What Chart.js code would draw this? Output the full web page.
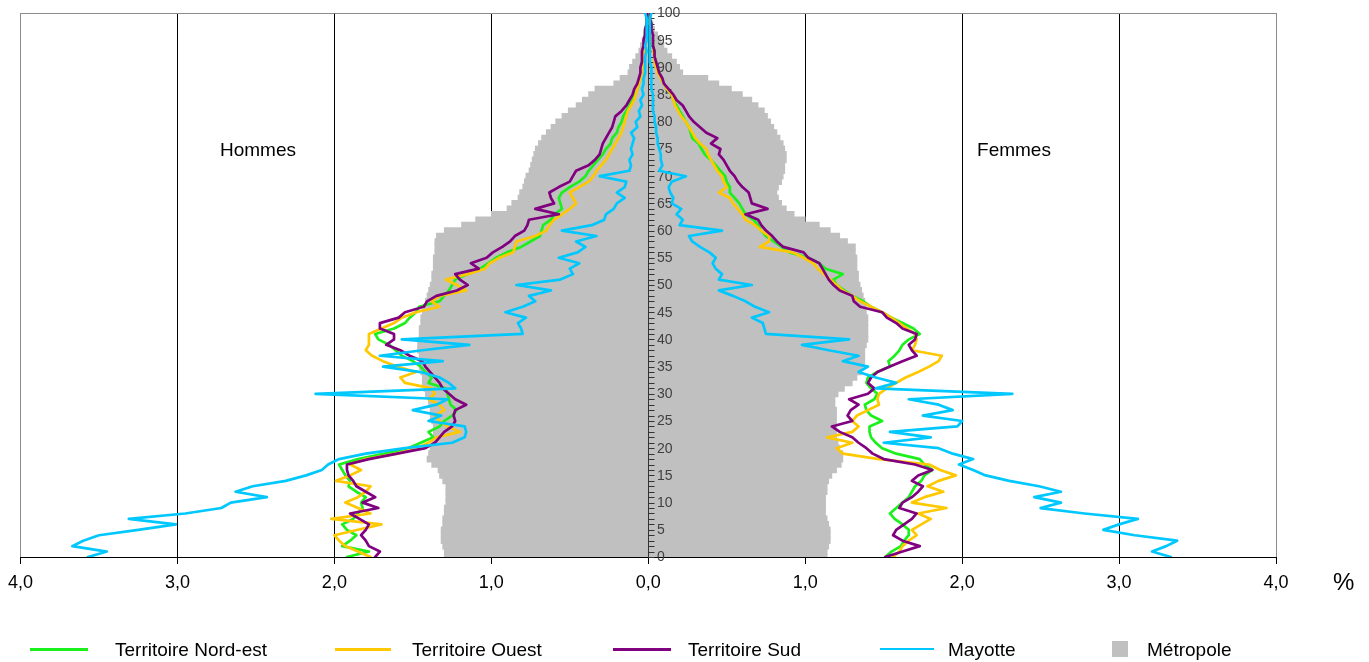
<!DOCTYPE html>
<html><head><meta charset="utf-8">
<script src="https://cdn.jsdelivr.net/npm/chart.js@4.4.1/dist/chart.umd.min.js"></script>
<style>
body{margin:0;background:#fff;}
#wrap{position:relative;width:1369px;height:662px;font-family:"Liberation Sans",Arial,sans-serif;overflow:hidden;}
canvas{position:absolute;left:0;top:0;}
.t{position:absolute;white-space:nowrap;color:#000;transform:translateY(-50%);line-height:1;}
.c{transform:translate(-50%,-50%);}
.ln{position:absolute;height:3px;}
</style></head>
<body>
<div id="wrap">
<canvas id="c" width="1369" height="662"></canvas>
<div class="t c" style="left:258px;top:149px;font-size:19px;">Hommes</div>
<div class="t c" style="left:1014px;top:149px;font-size:19px;">Femmes</div>
<div class="t" style="left:1333px;top:582px;font-size:24px;">%</div>
<div id="legend"></div>
</div>
<script>
// ---------- DATA ----------
const ages = Array.from({length:101},(_,i)=>i);
const ageTickLabels = [0,5,10,15,20,25,30,35,40,45,50,55,60,65,70,75,80,85,90,95,100];
const xTickValues = [-4,-3,-2,-1,0,1,2,3,4];

// Métropole (bars), % of population per year of age
const metroHommes = [
1.30,1.30,1.31,1.32,1.32,1.32,1.31,1.31,1.30,1.30,
1.29,1.29,1.29,1.29,1.31,1.33,1.34,1.38,1.41,1.40,
1.39,1.38,1.37,1.37,1.37,1.38,1.39,1.39,1.40,1.40,
1.42,1.43,1.44,1.44,1.45,1.46,1.46,1.46,1.47,1.47,
1.46,1.46,1.46,1.45,1.45,1.44,1.43,1.42,1.41,1.40,
1.39,1.38,1.38,1.37,1.37,1.37,1.36,1.36,1.36,1.35,
1.30,1.19,1.10,1.00,0.90,0.87,0.83,0.82,0.80,0.79,
0.78,0.76,0.75,0.74,0.73,0.72,0.70,0.68,0.65,0.62,
0.59,0.55,0.51,0.46,0.42,0.38,0.34,0.22,0.18,0.13,
0.12,0.10,0.08,0.06,0.05,0.04,0.03,0.02,0.01,0.01,0.01];
const metroFemmes = [
1.14,1.14,1.15,1.16,1.16,1.16,1.15,1.14,1.13,1.13,
1.13,1.13,1.14,1.14,1.15,1.17,1.20,1.23,1.24,1.24,
1.22,1.21,1.20,1.20,1.20,1.20,1.20,1.20,1.19,1.19,
1.21,1.25,1.30,1.33,1.36,1.37,1.38,1.38,1.38,1.39,
1.40,1.40,1.40,1.40,1.40,1.39,1.39,1.38,1.37,1.36,
1.35,1.34,1.34,1.33,1.33,1.33,1.32,1.32,1.27,1.22,
1.16,1.09,1.00,0.93,0.88,0.85,0.83,0.82,0.83,0.85,
0.86,0.87,0.87,0.88,0.88,0.87,0.86,0.84,0.82,0.80,
0.78,0.76,0.74,0.70,0.66,0.60,0.53,0.45,0.38,0.22,
0.20,0.18,0.15,0.12,0.10,0.08,0.06,0.04,0.03,0.02,0.02];

const nordEstHommes = [
1.92,1.78,1.95,1.90,1.86,1.92,1.95,1.88,1.85,1.82,
1.83,1.80,1.86,1.91,1.90,1.93,1.95,1.97,1.85,1.68,
1.53,1.45,1.37,1.40,1.33,1.30,1.25,1.22,1.26,1.27,
1.28,1.29,1.40,1.38,1.42,1.45,1.50,1.57,1.61,1.65,
1.72,1.74,1.62,1.55,1.52,1.48,1.46,1.33,1.30,1.27,
1.25,1.23,1.15,1.07,1.02,0.97,0.90,0.81,0.75,0.69,
0.68,0.67,0.62,0.60,0.55,0.56,0.57,0.55,0.50,0.44,
0.40,0.38,0.35,0.32,0.29,0.27,0.24,0.23,0.20,0.19,
0.17,0.16,0.14,0.12,0.10,0.09,0.07,0.06,0.05,0.05,
0.04,0.04,0.03,0.03,0.03,0.02,0.02,0.02,0.01,0.01,0.01];
const ouestHommes = [
1.77,1.85,1.93,1.97,2.00,1.85,1.70,2.02,1.77,1.85,
1.93,1.85,1.80,1.77,1.99,1.90,1.83,1.90,1.80,1.60,
1.48,1.40,1.35,1.20,1.28,1.33,1.36,1.30,1.33,1.40,
1.36,1.38,1.55,1.58,1.48,1.60,1.69,1.76,1.80,1.78,
1.78,1.78,1.70,1.62,1.57,1.48,1.33,1.38,1.33,1.16,
1.22,1.29,1.15,1.04,1.01,0.95,0.86,0.85,0.84,0.72,
0.65,0.63,0.60,0.55,0.50,0.46,0.48,0.50,0.44,0.38,
0.35,0.33,0.30,0.27,0.25,0.23,0.21,0.19,0.17,0.16,
0.15,0.14,0.13,0.11,0.09,0.08,0.07,0.06,0.05,0.04,
0.04,0.03,0.03,0.03,0.02,0.02,0.02,0.01,0.01,0.01,0.01];
const sudHommes = [
1.74,1.71,1.78,1.80,1.83,1.80,1.78,1.84,1.90,1.72,
1.82,1.74,1.80,1.86,1.88,1.91,1.92,1.92,1.78,1.60,
1.42,1.36,1.33,1.30,1.25,1.23,1.24,1.23,1.16,1.23,
1.27,1.31,1.33,1.36,1.39,1.42,1.44,1.52,1.58,1.67,
1.62,1.62,1.71,1.71,1.59,1.55,1.43,1.41,1.35,1.22,
1.15,1.20,1.23,1.08,1.13,1.03,0.99,0.93,0.88,0.85,
0.79,0.77,0.76,0.57,0.72,0.60,0.62,0.63,0.57,0.50,
0.48,0.46,0.38,0.34,0.31,0.30,0.29,0.27,0.25,0.23,
0.22,0.21,0.17,0.14,0.12,0.10,0.09,0.07,0.06,0.05,
0.05,0.04,0.04,0.04,0.03,0.03,0.02,0.02,0.01,0.01,0.01];
const mayotteHommes = [
3.57,3.45,3.67,3.60,3.50,3.25,3.01,3.31,2.95,2.72,
2.66,2.43,2.63,2.52,2.31,2.18,2.08,2.04,1.97,1.80,
1.55,1.25,1.17,1.16,1.17,1.40,1.32,1.50,1.35,1.28,
2.12,1.23,1.27,1.33,1.45,1.69,1.31,1.71,1.44,1.14,
1.57,0.80,0.81,0.83,0.78,0.91,0.80,0.72,0.76,0.62,
0.84,0.56,0.48,0.50,0.44,0.57,0.45,0.40,0.46,0.33,
0.55,0.36,0.28,0.27,0.22,0.20,0.15,0.20,0.15,0.14,
0.31,0.12,0.11,0.12,0.10,0.11,0.10,0.09,0.11,0.07,
0.08,0.05,0.06,0.04,0.05,0.03,0.04,0.03,0.03,0.02,
0.02,0.02,0.02,0.01,0.02,0.01,0.01,0.01,0.01,0.01,0.02];

const nordEstFemmes = [
1.51,1.55,1.61,1.63,1.66,1.66,1.62,1.57,1.54,1.58,
1.62,1.66,1.68,1.70,1.74,1.76,1.81,1.76,1.73,1.58,
1.49,1.45,1.42,1.41,1.41,1.49,1.42,1.39,1.38,1.44,
1.46,1.42,1.39,1.40,1.46,1.54,1.53,1.57,1.60,1.62,
1.66,1.73,1.69,1.62,1.55,1.49,1.42,1.37,1.30,1.25,
1.20,1.18,1.24,1.13,1.09,1.02,0.90,0.85,0.80,0.75,
0.72,0.70,0.67,0.62,0.60,0.58,0.55,0.52,0.52,0.50,
0.49,0.46,0.43,0.40,0.36,0.34,0.32,0.28,0.27,0.26,
0.24,0.22,0.20,0.18,0.16,0.15,0.12,0.10,0.08,0.07,
0.06,0.05,0.04,0.04,0.03,0.03,0.02,0.02,0.02,0.01,0.01];
const ouestFemmes = [
1.56,1.60,1.62,1.66,1.71,1.68,1.74,1.80,1.72,1.90,
1.68,1.76,1.88,1.78,1.85,1.96,1.86,1.79,1.47,1.24,
1.20,1.30,1.14,1.30,1.34,1.30,1.33,1.40,1.47,1.46,
1.47,1.52,1.58,1.64,1.72,1.79,1.85,1.87,1.68,1.70,
1.71,1.70,1.65,1.60,1.55,1.49,1.42,1.35,1.30,1.24,
1.20,1.16,1.12,1.08,1.05,0.99,0.92,0.71,0.77,0.77,
0.72,0.68,0.62,0.60,0.57,0.54,0.52,0.45,0.50,0.48,
0.47,0.44,0.42,0.40,0.38,0.37,0.33,0.30,0.28,0.26,
0.24,0.21,0.19,0.17,0.16,0.15,0.12,0.10,0.08,0.06,
0.05,0.04,0.04,0.03,0.03,0.02,0.02,0.02,0.01,0.01,0.01];
const sudFemmes = [
1.51,1.62,1.73,1.62,1.56,1.58,1.63,1.68,1.71,1.60,
1.62,1.68,1.72,1.75,1.68,1.72,1.81,1.70,1.50,1.43,
1.39,1.34,1.30,1.22,1.17,1.30,1.27,1.29,1.34,1.28,
1.40,1.44,1.40,1.42,1.46,1.54,1.62,1.71,1.68,1.66,
1.70,1.71,1.62,1.58,1.52,1.49,1.35,1.31,1.30,1.22,
1.18,1.15,1.13,1.11,1.09,1.02,0.99,0.86,0.82,0.79,
0.75,0.72,0.70,0.62,0.76,0.66,0.65,0.64,0.60,0.57,
0.55,0.52,0.50,0.48,0.45,0.46,0.40,0.44,0.37,0.33,
0.29,0.26,0.24,0.22,0.18,0.16,0.13,0.10,0.09,0.07,
0.06,0.05,0.04,0.04,0.03,0.03,0.03,0.02,0.02,0.01,0.01];
const mayotteFemmes = [
3.33,3.21,3.30,3.37,3.10,2.90,3.00,3.12,2.78,2.50,
2.63,2.46,2.63,2.49,2.30,2.15,2.07,1.98,2.07,1.94,
1.85,1.50,1.80,1.54,1.97,2.00,1.75,1.94,1.85,1.66,
2.32,1.45,1.58,1.45,1.34,1.40,1.24,1.34,1.15,0.98,
1.28,0.75,0.74,0.73,0.66,0.77,0.68,0.62,0.54,0.45,
0.66,0.45,0.47,0.43,0.41,0.43,0.39,0.33,0.28,0.26,
0.47,0.20,0.22,0.18,0.21,0.15,0.16,0.14,0.13,0.15,
0.24,0.07,0.09,0.08,0.08,0.07,0.06,0.06,0.05,0.05,
0.04,0.04,0.03,0.03,0.03,0.03,0.02,0.02,0.02,0.02,
0.02,0.01,0.01,0.01,0.01,0.01,0.01,0.01,0.01,0.01,0.02];

const seriesNames = ['Territoire Nord-est','Territoire Ouest','Territoire Sud','Mayotte','Métropole'];
const seriesColors = ['#1CF01C','#FFC800','#800080','#00C8FF','#C0C0C0'];

// ---------- CHART ----------
const FONT = '"Liberation Sans", Arial, sans-serif';
function lineSet(vals, sign, k, order){
  return {type:'line', indexAxis:'y', label: seriesNames[k], order,
    data: ages.map((a,i)=>({x: sign*vals[i], y: a})),
    borderColor: seriesColors[k], backgroundColor: seriesColors[k],
    borderWidth: 2.7, pointRadius: 0, tension: 0, fill: false,
    borderJoinStyle:'round', borderCapStyle:'round'};
}
const datasets = [
  lineSet(mayotteHommes,-1,3,1), lineSet(mayotteFemmes,1,3,1),
  lineSet(sudHommes,-1,2,2), lineSet(sudFemmes,1,2,2),
  lineSet(ouestHommes,-1,1,3), lineSet(ouestFemmes,1,1,3),
  lineSet(nordEstHommes,-1,0,4), lineSet(nordEstFemmes,1,0,4),
  {type:'bar', indexAxis:'y', label: seriesNames[4], order: 10,
   data: ages.map((a,i)=>({y:a, x:[-metroHommes[i], metroFemmes[i]]})),
   backgroundColor: seriesColors[4], borderWidth: 0, barThickness: 6, grouped:false}
];

const frameAxis = {
  id:'frameAxis',
  beforeDatasetsDraw(chart){
    const {ctx, chartArea:ca} = chart;
    ctx.save(); ctx.strokeStyle='#8c8c8c'; ctx.lineWidth=1;
    ctx.beginPath(); ctx.moveTo(ca.left, Math.round(ca.top)+0.5); ctx.lineTo(ca.right, Math.round(ca.top)+0.5); ctx.stroke();
    ctx.restore();
  },
  afterDatasetDraw(chart, args){
    if (chart.data.datasets[args.index].type !== 'bar') return;
    const {ctx, scales:{x, y}} = chart;
    const x0 = Math.round(x.getPixelForValue(0)) + 0.5;
    ctx.save();
    ctx.strokeStyle = '#333'; ctx.lineWidth = 1;
    ctx.beginPath(); ctx.moveTo(x0, y.getPixelForValue(0)); ctx.lineTo(x0, y.getPixelForValue(100)); ctx.stroke();
    ages.forEach(a=>{
      const py = Math.round(y.getPixelForValue(a)) + 0.5;
      ctx.beginPath(); ctx.moveTo(x0, py); ctx.lineTo(x0+6, py); ctx.stroke();
    });
    ctx.font = '14px ' + FONT; ctx.fillStyle = '#404040';
    ctx.textAlign = 'left'; ctx.textBaseline = 'middle';
    ageTickLabels.forEach(a=>{ ctx.fillText(String(a), x0 + 8.5, y.getPixelForValue(a) + 0.5); });
    ctx.restore();
  }
};

new Chart(document.getElementById('c'), {
  type:'bar',
  data:{datasets},
  options:{
    indexAxis:'y', responsive:false, animation:false, events:[],
    layout:{padding:{left:20, right:93, top:13, bottom:65}},
    plugins:{legend:{display:false}, tooltip:{enabled:false}},
    scales:{
      x:{type:'linear', min:-4, max:4, position:'bottom', offset:false,
        afterBuildTicks: s => { s.ticks = xTickValues.map(v=>({value:v})); },
        afterFit: s => { s.height = 40; },
        ticks:{color:'#000', font:{family:FONT, size:18}, padding:8, maxRotation:0, autoSkip:false,
          callback: v => Math.abs(v).toFixed(1).replace('.', ',')},
        grid:{offset:false, color: c => (Math.abs(c.tick.value)===4 ? '#8c8c8c' : (c.tick.value===0 ? 'rgba(0,0,0,0)' : '#000')),
          lineWidth:1, tickColor:'#000', tickLength:7, drawOnChartArea:true},
        border:{display:true, color:'#000', width:1}},
      y:{type:'linear', min:0, max:100, display:false, offset:false, grid:{offset:false}, ticks:{stepSize:1}}
    }
  },
  plugins:[frameAxis]
});

// HTML legend
const legendPos = [
  {line:[30,58], text:115},
  {line:[335,56], text:412},
  {line:[613,58], text:688},
  {line:[880,54], text:948},
  {box:[1112,16], text:1147}
];
const lg = document.getElementById('legend');
legendPos.forEach((p,k)=>{
  if (p.line){
    const d=document.createElement('div'); d.className='ln';
    d.style.left=p.line[0]+'px'; d.style.width=p.line[1]+'px'; d.style.top=(k===3?648:647.5)+'px';
    d.style.height=(k===3?2:3)+'px'; d.style.background=seriesColors[k]; lg.appendChild(d);
  } else {
    const d=document.createElement('div'); d.style.position='absolute';
    d.style.left=p.box[0]+'px'; d.style.top=(649-8)+'px'; d.style.width=p.box[1]+'px'; d.style.height='16px';
    d.style.background=seriesColors[k]; lg.appendChild(d);
  }
  const t=document.createElement('div'); t.className='t'; t.style.left=p.text+'px'; t.style.top='649px';
  t.style.fontSize='19px'; t.textContent=seriesNames[k]; lg.appendChild(t);
});
</script>
</body></html>
